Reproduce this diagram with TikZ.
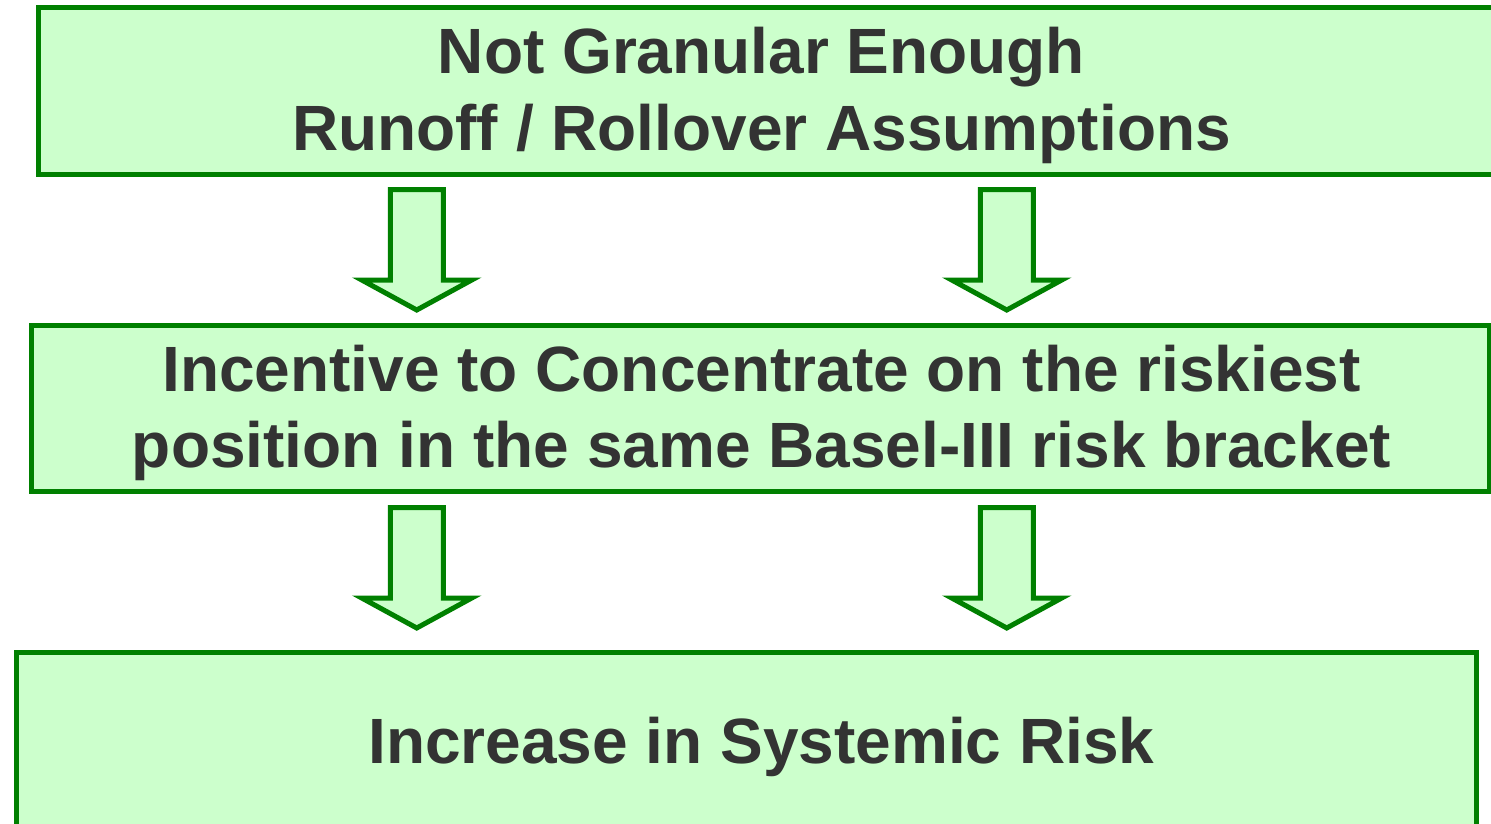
\documentclass[tikz,border=0pt]{standalone}
\usepackage{fontspec}
\setmainfont{Liberation Sans}
\definecolor{boxline}{RGB}{0,128,0}
\definecolor{boxfill}{RGB}{204,255,204}
\definecolor{ink}{RGB}{51,51,51}
\begin{document}
\begin{tikzpicture}[x=1pt,y=-1pt,
  panel/.style={draw=boxline, fill=boxfill, line width=5pt, miter limit=12},
  stage/.style={panel, rectangle, outer sep=0pt, inner sep=0pt, anchor=north west},
  caption/.style={font=\fontsize{64}{76.7}\selectfont\bfseries, text=ink,
                  align=center, inner sep=0pt},
  blockarrow/.pic={
    \path[panel] (-26.5,0) -- (26.5,0) -- (26.5,90.5) -- (55,90.5)
      -- (0,120.5) -- (-55,90.5) -- (-26.5,90.5) -- cycle;
  }
]
\useasboundingbox (0,0) rectangle (1491,824);

% three stacked stages
\node[stage, minimum width=1462pt, minimum height=166pt] (b1) at (38,8) {};
\node[stage, minimum width=1458pt, minimum height=165.8pt] (b2) at (31.5,325.7) {};
\node[stage, minimum width=1460.5pt, minimum height=200pt] (b3) at (16,652) {};

% stage captions
\node[caption] (t1) at (761.5,95.2) {Not Granular Enough\\Runoff / Rollover Assumptions};
\node[caption] (t2) at (761.5,412.9) {Incentive to Concentrate on the riskiest\\position in the same Basel-III risk bracket};
\node[caption, anchor=base] (t3) at (761.5,763.3) {Increase in Systemic Risk};

% block arrows between stages
\pic at (416.75,189.5) {blockarrow};
\pic at (1006.75,189.5) {blockarrow};
\pic at (416.75,507.5) {blockarrow};
\pic at (1006.75,507.5) {blockarrow};
\end{tikzpicture}
\end{document}
